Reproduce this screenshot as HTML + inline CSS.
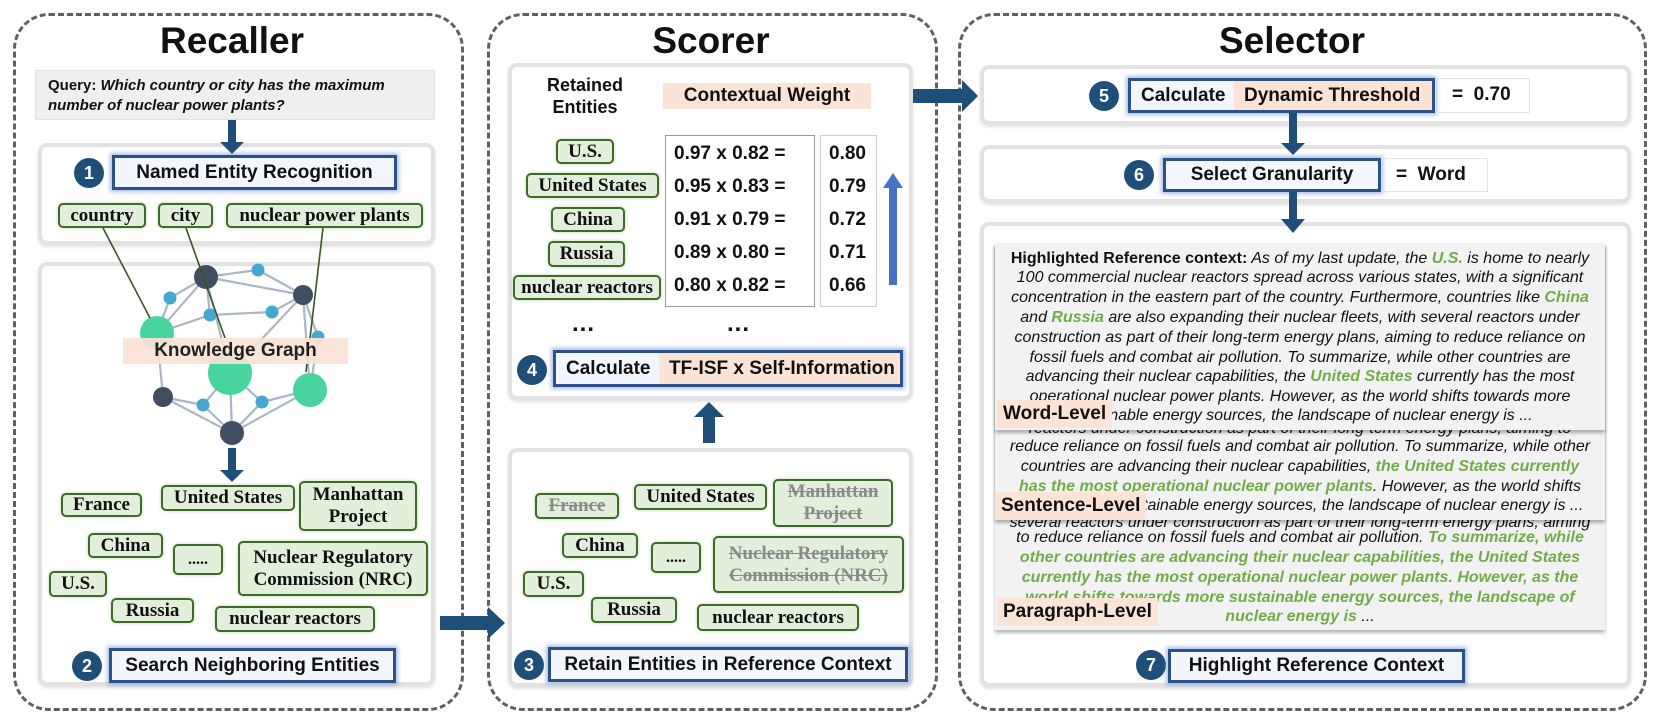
<!DOCTYPE html>
<html><head><meta charset="utf-8"><style>
*{box-sizing:border-box;margin:0;padding:0}
body{width:1661px;height:719px;background:#fff;position:relative;overflow:hidden;font-family:"Liberation Sans",Arial,sans-serif;color:#111}
.a{position:absolute}
.panel{position:absolute;border:3px dashed #606060;border-radius:36px}
.title{position:absolute;font-weight:bold;font-size:37px;text-align:center;transform:translateX(-50%);white-space:nowrap}
.box{position:absolute;background:#fff;border:4px solid #e2e2e2;border-radius:9px;box-shadow:0 2px 3px rgba(0,0,0,.12)}
.btn{position:absolute;border:3px solid #2b5189;background:#f3f6fc;box-shadow:0 0 4px 2px rgba(100,140,210,.55);font-weight:bold;font-size:19px;display:flex;align-items:center;justify-content:center;white-space:nowrap}
.num{position:absolute;width:30px;height:30px;border-radius:50%;background:#1f4e79;color:#fff;font-weight:bold;font-size:18px;display:flex;align-items:center;justify-content:center;transform:translate(-50%,-50%)}
.tag{position:absolute;background:#e2efda;border:2.5px solid #3f6b2a;border-radius:5px;font-family:"Liberation Serif",serif;font-weight:bold;font-size:19px;display:flex;align-items:center;justify-content:center;text-align:center;line-height:22px;white-space:nowrap;box-shadow:0 0 3px rgba(112,173,71,.5)}
.st{color:#8a8a8a;text-decoration:line-through}
.peach{background:#fbe3d5}
.card{position:absolute;background:#f2f2f2;box-shadow:0 3px 3px rgba(0,0,0,.28);overflow:hidden}
.ln{position:absolute;left:0;width:100%;text-align:center;font-style:italic;font-size:16px;white-space:nowrap;line-height:19px}
.g{color:#70ad47;font-weight:bold}
.lab{position:absolute;background:#fbe3d5;font-weight:bold;font-size:19px;padding:3px 6px;white-space:nowrap}
.tb{position:absolute;font-weight:bold;font-size:19px;white-space:nowrap}
</style></head><body>

<div class="panel" style="left:13px;top:13px;width:451px;height:698px"></div>
<div class="panel" style="left:487px;top:13px;width:451px;height:698px"></div>
<div class="panel" style="left:958px;top:13px;width:689px;height:698px"></div>

<div class="title" style="left:232px;top:20px">Recaller</div>
<div class="title" style="left:711px;top:20px">Scorer</div>
<div class="title" style="left:1292px;top:20px">Selector</div>

<div class="a" style="left:35px;top:70px;width:400px;height:50px;background:#efefef;border:1px solid #e2e2e2;font-weight:bold;font-size:15px;line-height:20px;padding:5px 0 0 12px">Query: <i>Which country or city has the maximum<br>number of nuclear power plants?</i></div>

<div class="box" style="left:38px;top:143px;width:397px;height:102px"></div>
<div class="box" style="left:38px;top:262px;width:397px;height:424px"></div>

<svg class="a" style="left:0;top:0" width="1661" height="719">
 <g stroke="#a9b7c6" stroke-width="2.2">
  <line x1="206" y1="277" x2="258" y2="270"/><line x1="206" y1="277" x2="303" y2="295"/><line x1="258" y1="270" x2="303" y2="295"/>
  <line x1="206" y1="277" x2="170" y2="298"/><line x1="206" y1="277" x2="210" y2="315"/><line x1="206" y1="277" x2="157" y2="333"/>
  <line x1="170" y1="298" x2="157" y2="333"/><line x1="210" y1="315" x2="157" y2="333"/><line x1="210" y1="315" x2="272" y2="312"/>
  <line x1="272" y1="312" x2="303" y2="295"/><line x1="303" y1="295" x2="230" y2="373"/><line x1="303" y1="295" x2="318" y2="337"/>
  <line x1="303" y1="295" x2="310" y2="390"/><line x1="318" y1="337" x2="310" y2="390"/><line x1="157" y1="333" x2="230" y2="373"/>
  <line x1="157" y1="333" x2="163" y2="397"/><line x1="230" y1="373" x2="203" y2="405"/><line x1="230" y1="373" x2="262" y2="402"/>
  <line x1="230" y1="373" x2="232" y2="433"/><line x1="163" y1="397" x2="203" y2="405"/><line x1="163" y1="397" x2="232" y2="433"/>
  <line x1="203" y1="405" x2="232" y2="433"/><line x1="262" y1="402" x2="232" y2="433"/><line x1="262" y1="402" x2="310" y2="390"/>
  <line x1="310" y1="390" x2="232" y2="433"/><line x1="206" y1="277" x2="230" y2="373"/>
 </g>
 <g fill="#47d49f"><circle cx="157" cy="333" r="17"/><circle cx="230" cy="373" r="22"/><circle cx="310" cy="390" r="17"/></g>
 <g fill="#3f4e60"><circle cx="206" cy="277" r="12"/><circle cx="303" cy="295" r="10"/><circle cx="163" cy="397" r="10"/><circle cx="232" cy="433" r="12"/></g>
 <g fill="#46a8d0"><circle cx="258" cy="270" r="6.5"/><circle cx="170" cy="298" r="6.5"/><circle cx="210" cy="315" r="6.5"/><circle cx="272" cy="312" r="6.5"/><circle cx="318" cy="337" r="6.5"/><circle cx="203" cy="405" r="6.5"/><circle cx="262" cy="402" r="6.5"/></g>
 <g stroke="#375623" stroke-width="1.6">
  <line x1="103" y1="228" x2="150" y2="318"/><line x1="186" y1="228" x2="225" y2="338"/><line x1="323" y1="228" x2="306" y2="372"/>
 </g>
</svg>

<div class="a peach" style="left:123px;top:338px;width:225px;height:26px;opacity:.92;font-weight:bold;font-size:19px;text-align:center;line-height:26px">Knowledge Graph</div>

<div class="num" style="left:89px;top:173px">1</div>
<div class="btn" style="left:112px;top:155px;width:285px;height:35px">Named Entity Recognition</div>
<div class="tag" style="left:58px;top:203px;width:88px;height:25px">country</div>
<div class="tag" style="left:158px;top:203px;width:55px;height:25px">city</div>
<div class="tag" style="left:226px;top:203px;width:197px;height:25px">nuclear power plants</div>

<div class="tag" style="left:61px;top:493px;width:81px;height:24px">France</div>
<div class="tag" style="left:161px;top:485px;width:134px;height:26px">United States</div>
<div class="tag" style="left:299px;top:481px;width:118px;height:50px">Manhattan<br>Project</div>
<div class="tag" style="left:88px;top:533px;width:75px;height:25px">China</div>
<div class="tag" style="left:173px;top:544px;width:50px;height:31px;font-size:16px">.....</div>
<div class="tag" style="left:238px;top:541px;width:190px;height:55px">Nuclear Regulatory<br>Commission (NRC)</div>
<div class="tag" style="left:49px;top:571px;width:58px;height:26px">U.S.</div>
<div class="tag" style="left:111px;top:598px;width:83px;height:25px">Russia</div>
<div class="tag" style="left:215px;top:606px;width:160px;height:26px">nuclear reactors</div>
<div class="num" style="left:87px;top:666px">2</div>
<div class="btn" style="left:109px;top:648px;width:287px;height:35px">Search Neighboring Entities</div>

<!-- Scorer -->
<div class="box" style="left:508px;top:63px;width:405px;height:337px"></div>
<div class="box" style="left:508px;top:448px;width:405px;height:239px"></div>
<div class="a" style="left:535px;top:74px;width:100px;text-align:center;font-weight:bold;font-size:18px;line-height:22px">Retained<br>Entities</div>
<div class="a peach" style="left:663px;top:83px;width:208px;height:26px;font-weight:bold;font-size:19px;text-align:center;line-height:26px">Contextual Weight</div>
<div class="tag" style="left:556px;top:139px;width:58px;height:25px">U.S.</div>
<div class="tag" style="left:526px;top:173px;width:133px;height:25px">United States</div>
<div class="tag" style="left:551px;top:207px;width:74px;height:25px">China</div>
<div class="tag" style="left:548px;top:241px;width:77px;height:26px">Russia</div>
<div class="tag" style="left:513px;top:275px;width:148px;height:25px">nuclear reactors</div>
<div class="a" style="left:665px;top:135px;width:150px;height:172px;border:1.5px solid #999"></div>
<div class="a" style="left:820px;top:135px;width:57px;height:172px;border:1.5px solid #ccc"></div>
<div class="tb" style="left:674px;top:143px">0.97 x 0.82 =</div>
<div class="tb" style="left:674px;top:176px">0.95 x 0.83 =</div>
<div class="tb" style="left:674px;top:209px">0.91 x 0.79 =</div>
<div class="tb" style="left:674px;top:242px">0.89 x 0.80 =</div>
<div class="tb" style="left:674px;top:275px">0.80 x 0.82 =</div>
<div class="tb" style="left:829px;top:143px">0.80</div>
<div class="tb" style="left:829px;top:176px">0.79</div>
<div class="tb" style="left:829px;top:209px">0.72</div>
<div class="tb" style="left:829px;top:242px">0.71</div>
<div class="tb" style="left:829px;top:275px">0.66</div>
<div class="tb" style="left:572px;top:310px;font-size:24px;letter-spacing:1px">...</div>
<div class="tb" style="left:727px;top:310px;font-size:24px;letter-spacing:1px">...</div>
<div class="num" style="left:532px;top:370px">4</div>
<div class="btn" style="left:553px;top:350px;width:350px;height:37px;justify-content:flex-start;padding:0">
 <span style="padding:0 0 0 10px;width:103px">Calculate</span><span class="peach" style="flex:1;height:100%;display:flex;align-items:center;padding-left:10px">TF-ISF x Self-Information</span></div>

<div class="tag" style="left:535px;top:493px;width:84px;height:26px"><span class="st">France</span></div>
<div class="tag" style="left:634px;top:484px;width:133px;height:26px">United States</div>
<div class="tag" style="left:773px;top:479px;width:120px;height:48px"><span class="st">Manhattan<br>Project</span></div>
<div class="tag" style="left:562px;top:533px;width:76px;height:25px">China</div>
<div class="tag" style="left:651px;top:542px;width:50px;height:31px;font-size:16px">.....</div>
<div class="tag" style="left:713px;top:536px;width:191px;height:57px"><span class="st">Nuclear Regulatory<br>Commission (NRC)</span></div>
<div class="tag" style="left:523px;top:571px;width:61px;height:26px">U.S.</div>
<div class="tag" style="left:591px;top:597px;width:86px;height:26px">Russia</div>
<div class="tag" style="left:697px;top:604px;width:162px;height:27px">nuclear reactors</div>
<div class="num" style="left:529px;top:665px">3</div>
<div class="btn" style="left:548px;top:647px;width:360px;height:35px">Retain Entities in Reference Context</div>

<!-- Selector -->
<div class="box" style="left:980px;top:65px;width:651px;height:60px"></div>
<div class="box" style="left:980px;top:145px;width:651px;height:58px"></div>
<div class="box" style="left:980px;top:222px;width:651px;height:465px"></div>

<div class="num" style="left:1104px;top:96px">5</div>
<div class="btn" style="left:1128px;top:78px;width:307px;height:35px;justify-content:flex-start">
 <span style="padding-left:10px;width:103px">Calculate</span><span class="peach" style="flex:1;height:100%;display:flex;align-items:center;padding-left:10px">Dynamic Threshold</span></div>
<div class="a" style="left:1435px;top:78px;width:95px;height:35px;border:1.5px solid #e4e4e4;font-weight:bold;font-size:19px;line-height:32px;padding-left:16px;white-space:pre">=  0.70</div>
<div class="num" style="left:1139px;top:175px">6</div>
<div class="btn" style="left:1163px;top:158px;width:218px;height:34px">Select Granularity</div>
<div class="a" style="left:1381px;top:158px;width:107px;height:34px;border:1.5px solid #e4e4e4;font-weight:bold;font-size:19px;line-height:31px;padding-left:14px;white-space:pre">=  Word</div>

<div class="card" style="left:995px;top:243px;width:610px;height:387px;z-index:1">
 <div class="ln" style="top:270px">several reactors under construction as part of their long-term energy plans, aiming</div>
 <div class="ln" style="top:285px">to reduce reliance on fossil fuels and combat air pollution. <span class="g">To summarize, while</span></div>
 <div class="ln g" style="top:305px">other countries are advancing their nuclear capabilities, the United States</div>
 <div class="ln g" style="top:325px">currently has the most operational nuclear power plants. However, as the</div>
 <div class="ln g" style="top:345px">world shifts towards more sustainable energy sources, the landscape of</div>
 <div class="ln" style="top:364px"><span class="g">nuclear energy is</span> ...</div>
</div>
<div class="lab" style="left:997px;top:598px;z-index:4">Paragraph-Level</div>
<div class="card" style="left:995px;top:243px;width:610px;height:277px;z-index:2">
 <div class="ln" style="top:176px">reactors under construction as part of their long-term energy plans, aiming to</div>
 <div class="ln" style="top:194px">reduce reliance on fossil fuels and combat air pollution. To summarize, while other</div>
 <div class="ln" style="top:214px">countries are advancing their nuclear capabilities, <span class="g">the United States currently</span></div>
 <div class="ln" style="top:234px"><span class="g">has the most operational nuclear power plants</span>. However, as the world shifts</div>
 <div class="ln" style="top:253px">towards more sustainable energy sources, the landscape of nuclear energy is ...</div>
</div>
<div class="lab" style="left:995px;top:492px;z-index:4">Sentence-Level</div>
<div class="card" style="left:995px;top:243px;width:610px;height:187px;z-index:3">
 <div class="ln" style="top:6px"><b style="font-style:normal">Highlighted Reference context:</b> As of my last update, the <span class="g">U.S.</span> is home to nearly</div>
 <div class="ln" style="top:25px">100 commercial nuclear reactors spread across various states, with a significant</div>
 <div class="ln" style="top:45px">concentration in the eastern part of the country. Furthermore, countries like <span class="g">China</span></div>
 <div class="ln" style="top:65px">and <span class="g">Russia</span> are also expanding their nuclear fleets, with several reactors under</div>
 <div class="ln" style="top:85px">construction as part of their long-term energy plans, aiming to reduce reliance on</div>
 <div class="ln" style="top:105px">fossil fuels and combat air pollution. To summarize, while other countries are</div>
 <div class="ln" style="top:124px">advancing their nuclear capabilities, the <span class="g">United States</span> currently has the most</div>
 <div class="ln" style="top:144px">operational nuclear power plants. However, as the world shifts towards more</div>
 <div class="ln" style="top:163px">sustainable energy sources, the landscape of nuclear energy is ...</div>
</div>
<div class="lab" style="left:997px;top:400px;z-index:4">Word-Level</div>

<div class="num" style="left:1151px;top:665px">7</div>
<div class="btn" style="left:1168px;top:649px;width:297px;height:34px">Highlight Reference Context</div>

<!-- arrows on top -->
<svg class="a" style="left:0;top:0;z-index:10" width="1661" height="719">
 <g fill="#1f4e79">
  <polygon points="228,120 236,120 236,142 244,142 232,154 220,142 228,142"/>
  <polygon points="228,448 236,448 236,470 244,470 232,482 220,470 228,470"/>
  <polygon points="440,616 488,616 488,607 505,623 488,639 488,630 440,630"/>
  <polygon points="913,89 962,89 962,80 978,96 962,112 962,103 913,103"/>
  <polygon points="703,443 715,443 715,417 724,417 709,402 694,417 703,417"/>
  <polygon points="1289,113 1297,113 1297,143 1305,143 1293,155 1281,143 1289,143"/>
  <polygon points="1289,192 1297,192 1297,219 1305,219 1293,233 1281,219 1289,219"/>
 </g>
 <polygon fill="#4472c4" points="889,285 897,285 897,188 903,188 893,173 883,188 889,188"/>
</svg>

</body></html>
